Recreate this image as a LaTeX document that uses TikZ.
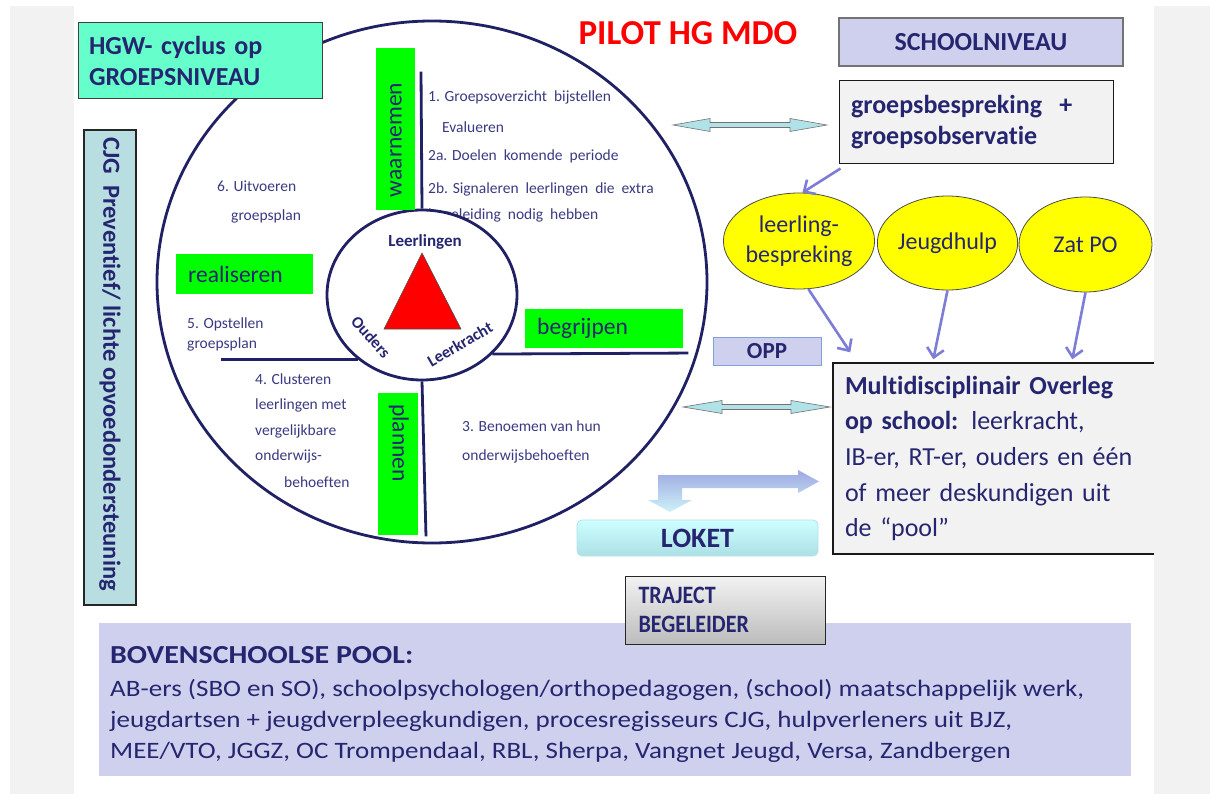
\documentclass[tikz,border=0pt]{standalone}
\usepackage{fontspec}
\setmainfont{Carlito}[Ligatures=NoCommon]
\newfontfamily\condfont[FakeStretch=0.88,Ligatures=NoCommon]{Carlito}
\newfontfamily\widefont[FakeStretch=1.15,Ligatures=NoCommon]{Carlito}
\usetikzlibrary{arrows.meta,shapes.geometric}
\definecolor{navy}{RGB}{38,38,112}
\definecolor{textblue}{RGB}{58,58,130}
\definecolor{circnavy}{RGB}{32,32,100}
\definecolor{limegreen}{RGB}{0,255,0}
\definecolor{aqua}{RGB}{102,255,204}
\definecolor{cjgblue}{RGB}{184,222,226}
\definecolor{lavender}{RGB}{207,207,238}
\definecolor{paleg}{RGB}{242,242,242}
\definecolor{arrowblue}{RGB}{125,125,215}
\definecolor{cyanarrow}{RGB}{176,226,232}
\definecolor{pilotred}{RGB}{255,0,0}
\definecolor{yell}{RGB}{255,255,0}
\newcommand\myfs[1]{\fontsize{#1}{#1}\selectfont}
\begin{document}
\begin{tikzpicture}[x=1pt,y=-1pt,
  txt/.style={text=navy, inner sep=0},
  smalltxt/.style={text=textblue, font=\myfs{15.5}, anchor=west, inner sep=0},
  greenbox/.style={fill=limegreen, draw=none, inner sep=0},
  gtxt/.style={text=navy, font=\myfs{23.5}, inner sep=0},
  circline/.style={draw=circnavy, line width=2.8pt},
  bluearrow/.style={draw=arrowblue, line width=2.6pt, -{Straight Barb[length=9pt,width=17pt]}},
  blockarrow/.style={fill=cyanarrow, draw=black!55, line width=0.6pt},
  yellipse/.style={ellipse, fill=yell, draw=black!70, line width=0.8pt, text=navy, inner sep=0, align=center, font=\fontsize{24}{30}\selectfont},
  boxstyle/.style={rectangle, inner sep=0},
]
\useasboundingbox (0,0) rectangle (1210,794);
\fill[white] (0,0) rectangle (1210,794);

% big circle
\node[ellipse, circline, minimum width=550, minimum height=522, inner sep=0] (bc) at (432,282) {};

% texts inside the circle
\node[smalltxt] (t1) at (428,97) {1. Groepsoverzicht\ \ bijstellen};
\node[smalltxt] (t1b) at (442,127) {Evalueren};
\node[smalltxt] (t2a) at (428,156) {2a. Doelen\ \ komende\ \ periode};
\node[smalltxt] (t2b) at (428,189) {2b. Signaleren\ \ leerlingen\ \ die\ \ extra};
\node[smalltxt] (t2c) at (428,215) {begeleiding\ \ nodig\ \ hebben};
\node[smalltxt] (t6) at (217,186) {6. Uitvoeren};
\node[smalltxt] (t6b) at (231,216) {groepsplan};
\node[smalltxt] (t5) at (187,324) {5. Opstellen};
\node[smalltxt] (t5b) at (187,344) {groepsplan};
\node[smalltxt] (t4) at (255,379) {4. Clusteren};
\node[smalltxt] (t4b) at (255,405) {leerlingen met};
\node[smalltxt] (t4c) at (255,431) {vergelijkbare};
\node[smalltxt] (t4d) at (255,456) {onderwijs-};
\node[smalltxt] (t4e) at (284,482) {behoeften};
\node[smalltxt] (t3) at (462,426) {3. Benoemen\ van\ hun};
\node[smalltxt] (t3b) at (462,456) {onderwijsbehoeften};

% inner circle
\node[ellipse, circline, fill=white, minimum width=190, minimum height=170, inner sep=0] (ic) at (422,295) {};

% cross lines
\draw[circline] (ic.north) -- ++(-1,-137);
\draw[circline] (ic.south) -- ++(4,155);
\draw[circline] (ic.-135) -- ++(-137,0);
\draw[circline] (ic.-40) -- ++(196,-1);

% triangle
\filldraw[fill=pilotred, draw=black!70, line width=0.6pt] (422,253) -- (461,329) -- (384,329) -- cycle;
\node[txt, font=\bfseries\myfs{17}] (lrl) at (425,242) {Leerlingen};
\node[txt, font=\bfseries\myfs{16.5}, rotate=-48] (oud) at (371,337) {Ouders};
\node[txt, font=\bfseries\myfs{16.5}, rotate=30] (lkr) at (460,344) {Leerkracht};

% green boxes
\node[greenbox, minimum width=39, minimum height=162] (wn) at (395.5,129) {};
\node[gtxt, rotate=90] (wnt) at (396,140) {waarnemen};
\node[greenbox, minimum width=137, minimum height=40] (rs) at (244.5,274) {};
\node[gtxt, anchor=west] (rst) at (188,274) {realiseren};
\node[greenbox, minimum width=158, minimum height=39] (bg) at (604,328.5) {};
\node[gtxt, anchor=west] (bgt) at (537,328) {begrijpen};
\node[greenbox, minimum width=40, minimum height=142] (pl) at (398,464) {};
\node[gtxt, rotate=-90] (plt) at (399,443) {plannen};

% title
\node[text=pilotred, font=\bfseries\myfs{35}, inner sep=0] (title) at (688,33) {PILOT HG MDO};

% HGW box
\node[boxstyle, fill=aqua, draw=black!75, line width=1pt, minimum width=244, minimum height=76, text width=222, inner xsep=11, align=left, text=navy, font=\bfseries\fontsize{26}{31}\selectfont] (hgw) at (200,61) {HGW- cyclus op\\GROEPSNIVEAU};

% CJG box
\node[boxstyle, fill=cjgblue, draw=black!85, line width=1.3pt, minimum width=52, minimum height=475] (cjg) at (110,367.5) {};
\node[txt, font=\bfseries\myfs{24.5}, rotate=-90] (cjgt) at (110,364) {CJG\ \ Preventief/ lichte opvoedondersteuning};

% SCHOOLNIVEAU
\node[boxstyle, fill=lavender, draw=black!55, line width=1.2pt, minimum width=284, minimum height=48, text=navy, font=\bfseries\myfs{26}] (sn) at (981,42) {SCHOOLNIVEAU};

% groepsbespreking box
\node[boxstyle, fill=paleg, draw=black!90, line width=1pt, minimum width=274, minimum height=83, text width=250, inner xsep=12, align=left, text=navy, font=\bfseries\fontsize{26}{31}\selectfont] (gb) at (976,122.5) {groepsbespreking\ \ +\\groepsobservatie};

% double arrow top
\path[blockarrow] (673,125) -- (710,118.5) -- (710,122.5) -- (790,122.5) -- (790,118.5) -- (827,125) -- (790,131.5) -- (790,127.5) -- (710,127.5) -- (710,131.5) -- cycle;

% ellipses
\node[yellipse, minimum width=148, minimum height=96] (lb) at (799,241) {\raisebox{-3pt}{leerling-}\\\raisebox{-3pt}{bespreking}};
\node[yellipse, minimum width=133, minimum height=94] (jh) at (947.5,243) {Jeugdhulp};
\node[yellipse, minimum width=133, minimum height=95] (zp) at (1085.5,244.5) {Zat PO};

% OPP
\node[boxstyle, fill=lavender, draw={rgb,255:red,130;green,160;blue,220}, line width=1pt, minimum width=108, minimum height=28, text=navy, font=\bfseries\myfs{23}] (opp) at (767,351) {OPP};

% MDO box
\node[boxstyle, fill=paleg, draw=black!90, line width=1.4pt, minimum width=332, minimum height=191, text width=308, inner xsep=12, align=left, text=navy, font=\fontsize{26}{35.7}\selectfont] (mdo) at (999,458.5) {{\bfseries Multidisciplinair Overleg}\\{\bfseries op school:} leerkracht,\\IB-er, RT-er, ouders en één\\of meer deskundigen uit\\de “pool”};

% blue arrows
\draw[bluearrow] ([xshift=2pt,yshift=-4pt]gb.south west) -- (lb.86);
\draw[bluearrow] (lb.-79) -- ([xshift=18pt,yshift=10pt]mdo.north west);
\draw[bluearrow] (jh.south) -- ([xshift=101pt,yshift=3pt]mdo.north west);
\draw[bluearrow] (zp.south) -- ([xshift=240pt,yshift=3pt]mdo.north west);

% double arrow middle
\path[blockarrow] (683,407) -- (722,400.5) -- (722,404.5) -- (791,404.5) -- (791,400.5) -- (830,407) -- (791,413.5) -- (791,409.5) -- (722,409.5) -- (722,413.5) -- cycle;

% bent arrow to LOKET
\shade[top color={rgb,255:red,158;green,168;blue,226}, bottom color={rgb,255:red,205;green,242;blue,248}]
  (658,475) -- (798,475) -- (798,470) -- (819,481.5) -- (798,493) -- (798,488) -- (682,488) -- (682,500) -- (692,500) -- (670,512) -- (648,500) -- (658,500) -- cycle;

% LOKET
\node[boxstyle, rounded corners=5pt, top color={rgb,255:red,205;green,255;blue,255}, bottom color={rgb,255:red,172;green,224;blue,230}, draw={rgb,255:red,180;green,225;blue,230}, line width=0.8pt, minimum width=241, minimum height=36, text=navy, font=\bfseries\myfs{28}] (lok) at (697.5,538) {LOKET};

% pool box
\node[boxstyle, fill=lavender, minimum width=1032, minimum height=153] (pool) at (615,699.5) {};
\node[txt, anchor=west, font=\widefont\bfseries\myfs{26}] (poolt) at (110,655) {BOVENSCHOOLSE POOL:};
\node[txt, anchor=west, align=left, font=\widefont\fontsize{23.5}{31}\selectfont] (poolb) at (110,721) {AB-ers (SBO en SO), schoolpsychologen/orthopedagogen, (school) maatschappelijk werk,\\jeugdartsen + jeugdverpleegkundigen, procesregisseurs CJG, hulpverleners uit BJZ,\\MEE/VTO, JGGZ, OC Trompendaal, RBL, Sherpa, Vangnet Jeugd, Versa, Zandbergen};

% TRAJECT BEGELEIDER
\node[boxstyle, top color={rgb,255:red,242;green,242;blue,242}, bottom color={rgb,255:red,188;green,188;blue,188}, draw=black!85, line width=1pt, minimum width=187, minimum height=68, text width=174, inner xsep=13, align=left, text=navy, font=\condfont\bfseries\fontsize{25}{29}\selectfont] (tb) at (725.5,610) {TRAJECT\\BEGELEIDER};

% side strips
\fill[paleg] (10,6) rectangle (74,794);
\fill[paleg] (1154,6) rectangle (1210,794);
\end{tikzpicture}
\end{document}
